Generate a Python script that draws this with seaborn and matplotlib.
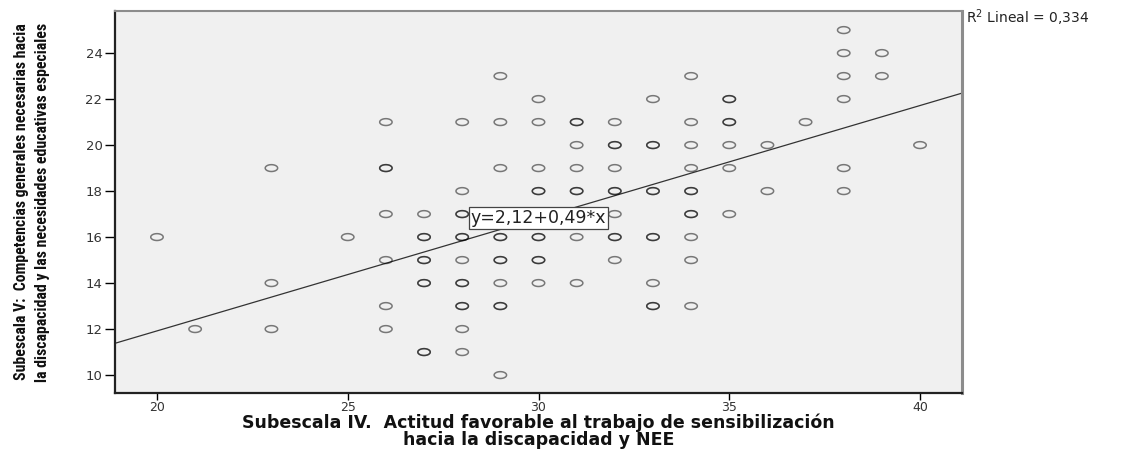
import os
import numpy as np
import pandas as pd
import matplotlib
matplotlib.use("Agg")
import matplotlib.pyplot as plt
from matplotlib.path import Path
from matplotlib.markers import MarkerStyle
from matplotlib import font_manager as fm
import seaborn as sns

# ---- data (x value, y value, number of overlapping cases) ----
x_vals = [20, 21, 23, 23, 23, 25,
          26, 26, 26, 26, 26, 26,
          27, 27, 27, 27, 27,
          28, 28, 28, 28, 28, 28, 28, 28, 28,
          29, 29, 29, 29, 29, 29, 29, 29,
          30, 30, 30, 30, 30, 30, 30,
          31, 31, 31, 31, 31, 31,
          32, 32, 32, 32, 32, 32, 32,
          33, 33, 33, 33, 33, 33,
          34, 34, 34, 34, 34, 34, 34, 34, 34,
          35, 35, 35, 35, 35,
          36, 36, 37,
          38, 38, 38, 38, 38, 38,
          39, 39, 40]
y_vals = [16, 12, 19, 14, 12, 16,
          21, 19, 17, 15, 13, 12,
          17, 16, 15, 14, 11,
          21, 18, 17, 16, 15, 14, 13, 12, 11,
          23, 21, 19, 16, 15, 14, 13, 10,
          22, 21, 19, 18, 16, 15, 14,
          21, 20, 19, 18, 16, 14,
          21, 20, 19, 18, 17, 16, 15,
          22, 20, 18, 16, 14, 13,
          23, 21, 20, 19, 18, 17, 16, 15, 13,
          22, 21, 20, 19, 17,
          20, 18, 21,
          25, 24, 23, 22, 19, 18,
          24, 23, 20]
counts = [1, 1, 1, 1, 1, 1,
          1, 2, 1, 1, 1, 1,
          1, 2, 2, 2, 2,
          1, 1, 2, 2, 1, 2, 2, 1, 1,
          1, 1, 1, 2, 2, 1, 2, 1,
          1, 1, 1, 2, 2, 2, 1,
          2, 1, 1, 2, 1, 1,
          1, 2, 1, 2, 1, 2, 1,
          1, 2, 2, 2, 1, 2,
          1, 1, 1, 1, 2, 2, 1, 1, 1,
          2, 2, 1, 1, 1,
          1, 1, 1,
          1, 1, 1, 1, 1, 1,
          1, 1, 1]

fit_intercept = 2.12
fit_slope = 0.49
r2_text = "0,334"
eq_text = "y=2,12+0,49*x"

x_ticks = [20, 25, 30, 35, 40]
y_ticks = [10, 12, 14, 16, 18, 20, 22, 24]

x_label = "Subescala IV.  Actitud favorable al trabajo de sensibilización\nhacia la discapacidad y NEE"
y_label = ("Subescala V:  Competencias generales necesarias hacia\n"
           "la discapacidad y las necesidades educativas especiales")

df = pd.DataFrame({
    "x": np.repeat(x_vals, counts),
    "y": np.repeat(y_vals, counts),
})

sns.set_theme(style="white")
plt.rcParams["font.family"] = ["DejaVu Sans"]


def find_narrow_bold():
    prefs = ["Liberation Sans Narrow", "Arial Narrow", "Roboto Condensed",
             "Open Sans Condensed", "Noto Sans Condensed", "DejaVu Sans Condensed",
             "Noto Sans", "DejaVu Sans"]
    found = {}
    for f in fm.fontManager.ttflist:
        base = os.path.basename(f.fname)
        narrow = ("Narrow" in f.name or "Condensed" in f.name or "Narrow" in base
                  or "Condensed" in base or str(f.stretch) in ("condensed", "semi-condensed",
                                                                "extra-condensed", "ultra-condensed"))
        bold = "Bold" in base and "Italic" not in base and "Oblique" not in base
        if narrow and bold and "Semi" not in base and "Extra" not in base:
            key = f.name
            if "Condensed" in base and "Condensed" not in key:
                key = key + " Condensed"
            if "Narrow" in base and "Narrow" not in key:
                key = key + " Narrow"
            found.setdefault(key, f.fname)
    for p in prefs:
        if p in found:
            return fm.FontProperties(fname=found[p])
    if found:
        return fm.FontProperties(fname=sorted(found.values())[0])
    return fm.FontProperties(family="Liberation Sans", weight="bold")


fig = plt.figure(figsize=(11.24, 4.49), dpi=100)
ax = fig.add_axes([115 / 1124, 1 - 393 / 449, (962 - 115) / 1124, (393 - 11) / 449])
ax.set_facecolor("#f0f0f0")

ax.set_xlim(18.9, 41.1)
ax.set_ylim(9.22, 25.83)

t = np.linspace(0, 2 * np.pi, 60)
ell = Path(np.column_stack([np.cos(t), 0.55 * np.sin(t)]), closed=True)
marker = MarkerStyle(ell)

sns.scatterplot(data=df, x="x", y="y", ax=ax, marker=marker, s=80,
                facecolors="none", edgecolor="black", linewidth=1.1,
                alpha=0.5, legend=False, zorder=3)

# fitted line from the stated coefficients
xl = np.array(ax.get_xlim())
line_df = pd.DataFrame({"x": xl, "y": fit_intercept + fit_slope * xl})
sns.lineplot(data=line_df, x="x", y="y", ax=ax, color="#333333", linewidth=0.9, zorder=2)
ax.set_xlim(18.9, 41.1)

ax.text(30.0, 16.83, eq_text, ha="center", va="center", fontsize=12.5, color="#222222",
        bbox=dict(boxstyle="square,pad=0.1", facecolor="white", edgecolor="#444444", linewidth=0.9),
        zorder=5)

ax.set_xticks(x_ticks)
ax.set_yticks(y_ticks)
ax.tick_params(axis="x", direction="out", length=5, width=1, color="black",
               labelsize=9, labelcolor="#333333", bottom=True, pad=1)
ax.tick_params(axis="y", direction="out", length=7, width=1, color="black",
               labelsize=9.5, labelcolor="#333333", left=True, pad=2)

for side in ["left", "bottom"]:
    ax.spines[side].set_color("#222222")
    ax.spines[side].set_linewidth(1.6)
ax.spines["top"].set_color("#8c8c8c")
ax.spines["top"].set_linewidth(1.5)
ax.spines["right"].set_color("#8c8c8c")
ax.spines["right"].set_linewidth(2.2)

ax.set_xlabel(x_label, fontsize=12.5, fontweight="bold", color="#111111", linespacing=0.88)
ax.xaxis.set_label_coords(0.5, -0.1)
ax.xaxis.label.set_va("center")

yfp = find_narrow_bold()
yfp.set_size(11)
ax.set_ylabel(y_label, fontproperties=yfp, color="#111111", linespacing=1.55)
ax.yaxis.set_label_coords(-0.098, 0.5)
ax.yaxis.label.set_va("center")

# fit the y-label length to the reference (about 358 px)
fig.canvas.draw()
bb = ax.yaxis.label.get_window_extent(fig.canvas.get_renderer())
new_size = 11 * 358.0 / bb.height
yfp.set_size(new_size)
ax.yaxis.label.set_fontproperties(yfp)

fig.text(966 / 1124, 1 - 18 / 449, "R$^2$ Lineal = " + r2_text, ha="left", va="center",
         fontsize=10, color="#222222")

fig.savefig("out.png", dpi=100, facecolor="white")
